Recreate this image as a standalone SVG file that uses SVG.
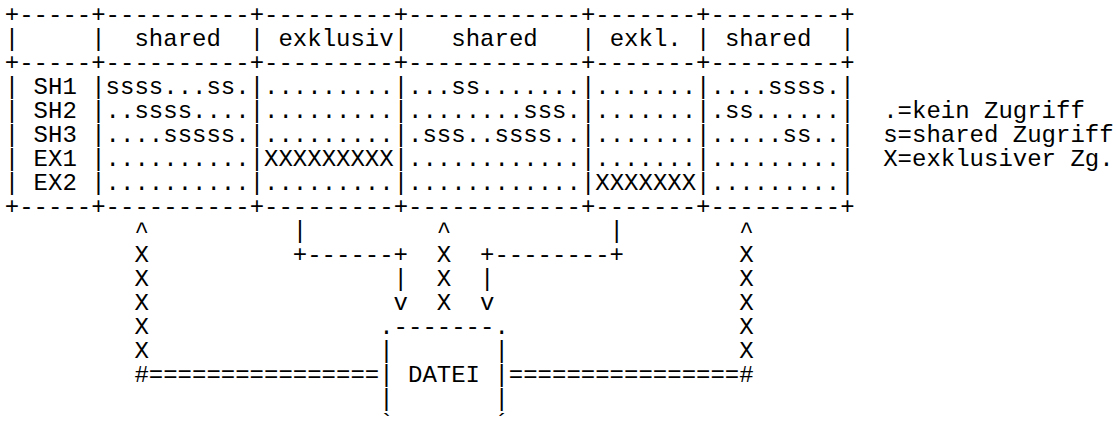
<svg xmlns="http://www.w3.org/2000/svg" width="1116" height="423" viewBox="0 0 1116 423" xml:space="preserve">
<style>
text{font-family:"Courier New",Courier,"Liberation Mono",monospace;font-size:24px;fill:#000;white-space:pre}
</style>
<rect width="1116" height="423" fill="#fff"/>
<g id="table">
<text x="4.8" y="22">+-----+----------+---------+------------+-------+---------+</text>
<text x="4.8" y="46">|     |  shared  | exklusiv|   shared   | exkl. | shared  |</text>
<text x="4.8" y="70">+-----+----------+---------+------------+-------+---------+</text>
<text x="4.8" y="94">| SH1 |ssss...ss.|.........|...ss.......|.......|....ssss.|</text>
<text x="4.8" y="118">| SH2 |..ssss....|.........|........sss.|.......|.ss......|</text>
<text x="4.8" y="142">| SH3 |....sssss.|.........|.sss..ssss..|.......|.....ss..|</text>
<text x="4.8" y="166">| EX1 |..........|XXXXXXXXX|............|.......|.........|</text>
<text x="4.8" y="190">| EX2 |..........|.........|............|XXXXXXX|.........|</text>
<text x="4.8" y="214">+-----+----------+---------+------------+-------+---------+</text>
</g>
<g id="legend">
<text x="883.2" y="118">.=kein Zugriff</text>
<text x="883.2" y="142">s=shared Zugriff</text>
<text x="883.2" y="166">X=exklusiver Zg.</text>
</g>
<g id="connectors">
<text x="134.4" y="238">^</text><text x="292.8" y="238">|</text><text x="436.8" y="238">^</text><text x="609.6" y="238">|</text><text x="739.2" y="238">^</text>
<text x="134.4" y="262">X</text><text x="292.8" y="262">+------+</text><text x="436.8" y="262">X</text><text x="480" y="262">+--------+</text><text x="739.2" y="262">X</text>
<text x="134.4" y="286">X</text><text x="393.6" y="286">|</text><text x="436.8" y="286">X</text><text x="480" y="286">|</text><text x="739.2" y="286">X</text>
<text x="134.4" y="310">X</text><text x="393.6" y="310">v</text><text x="436.8" y="310">X</text><text x="480" y="310">v</text><text x="739.2" y="310">X</text>
<text x="134.4" y="334">X</text><text x="739.2" y="334">X</text>
<text x="134.4" y="358">X</text><text x="739.2" y="358">X</text>
<text x="134.4" y="382">#================</text><text x="508.8" y="382">================#</text>
</g>
<g id="datei">
<text x="379.2" y="334">.-------.</text>
<text x="379.2" y="358">|       |</text>
<text x="379.2" y="382">| DATEI |</text>
<text x="379.2" y="406">|       |</text>
<text x="379.2" y="430">`-------´</text>
</g>
</svg>
